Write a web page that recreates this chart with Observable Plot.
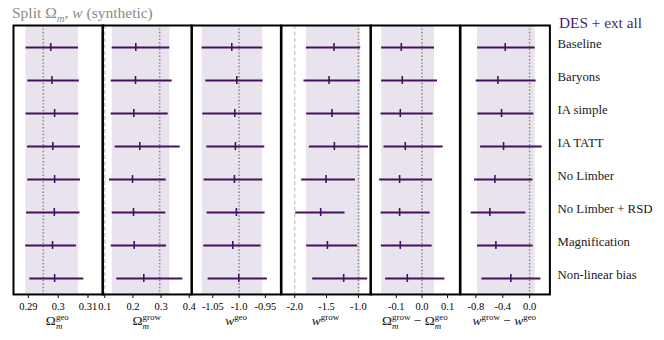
<!DOCTYPE html>
<html><head><meta charset="utf-8">
<script src="https://cdn.jsdelivr.net/npm/d3@7"></script>
<script src="https://cdn.jsdelivr.net/npm/@observablehq/plot@0.6"></script>
<style>
body{margin:0;background:#fff;width:664px;height:340px;overflow:hidden;position:relative;font-family:"Liberation Serif",serif}
.lab{position:absolute;line-height:0;white-space:nowrap}
.pan{position:absolute;top:20px;line-height:0}
.pan svg, .pan svg text{font-family:"Liberation Serif",serif !important}
.ax{font-size:13.5px;text-align:center;color:#111}
.ss{position:relative}
.sup{font-size:0.66em;position:relative;top:-0.55em}
.sub{font-size:0.66em;position:absolute;left:0;top:12.6px;font-style:italic}
.tsub{font-size:0.7em;position:relative;top:0.3em;font-style:italic}
</style></head><body>
<script>
const rows = ["Baseline","Baryons","IA simple","IA TATT","No Limber","No Limber + RSD","Magnification","Non-linear bias"];
// each entry: [lower, centre, upper]
const omGeo = [[0.2892,0.2975,0.3068],[0.2898,0.2979,0.3071],[0.2892,0.2988,0.3069],[0.2897,0.2982,0.3075],[0.2898,0.2988,0.3075],[0.2894,0.2987,0.3073],[0.2891,0.2981,0.3061],[0.2905,0.2988,0.3086]];
const omGrow = [[0.1263,0.2102,0.3311],[0.1228,0.2091,0.3396],[0.1228,0.2031,0.3254],[0.1370,0.2244,0.3680],[0.1167,0.1985,0.3183],[0.1263,0.2020,0.3168],[0.1228,0.2045,0.3193],[0.1427,0.2386,0.3773]];
const wGeo = [[-1.0703,-1.0139,-0.9550],[-1.0633,-1.0044,-0.9544],[-1.0690,-1.0082,-0.9563],[-1.0614,-1.0070,-0.9512],[-1.0665,-1.0089,-0.9550],[-1.0608,-1.0051,-0.9506],[-1.0671,-1.0120,-0.9582],[-1.0589,-1.0006,-0.9462]];
const wGrow = [[-1.816,-1.383,-0.964],[-1.854,-1.461,-0.969],[-1.812,-1.414,-0.975],[-1.770,-1.377,-0.843],[-1.890,-1.508,-1.047],[-1.984,-1.592,-1.210],[-1.812,-1.487,-1.011],[-1.717,-1.231,-0.854]];
const dOm = [[-0.1572,-0.0805,0.0490],[-0.1572,-0.0767,0.0607],[-0.1595,-0.0844,0.0440],[-0.1479,-0.0650,0.0829],[-0.1650,-0.0871,0.0414],[-0.1595,-0.0871,0.0323],[-0.1584,-0.0844,0.0400],[-0.1416,-0.0572,0.0895]];
const dW = [[-0.775,-0.363,0.084],[-0.796,-0.472,0.098],[-0.770,-0.418,0.064],[-0.730,-0.388,0.188],[-0.820,-0.517,0.049],[-0.870,-0.592,-0.055],[-0.775,-0.502,0.054],[-0.711,-0.279,0.168]];
const truths = [0.295, 0.295, -1.0, -1.0, 0.0, 0.0];
const priors = [null, 0.1, null, -2.0, null, null];
const domains = [[0.285,0.315],[0.0918,0.4096],[-1.0905,-0.9205],[-2.207,-0.804],[-0.2006,0.148],[-1.0295,0.3025]];
const tickVals = [[0.29,0.3,0.31],[0.1,0.2,0.3,0.4],[-1.05,-1.0,-0.95],[-2.0,-1.5,-1.0],[-0.1,0.0,0.1],[-0.8,-0.4,0.0]];
const tickLabels = [["0.29","0.3","0.31"],["0.1","0.2","0.3","0.4"],["-1.05","-1.0","-0.95"],["-2.0","-1.5","-1.0"],["-0.1","0.0","0.1"],["-0.8","-0.4","0.0"]];
const axisTitles = [
  'Ω<span class="ss"><span class="sup">geo</span><span class="sub">m</span></span>',
  'Ω<span class="ss"><span class="sup">grow</span><span class="sub">m</span></span>',
  '<i>w</i><span class="sup">geo</span>',
  '<i>w</i><span class="sup">grow</span>',
  'Ω<span class="ss"><span class="sup">grow</span><span class="sub">m</span></span> − Ω<span class="ss"><span class="sup">geo</span><span class="sub">m</span></span>',
  '<i>w</i><span class="sup">grow</span> − <i>w</i><span class="sup">geo</span>'
];
const series = [omGeo, omGrow, wGeo, wGrow, dOm, dW];
const legendLabel = "DES + ext all";

const LINE = "#46105f", BAND = "#e9e3ed";
const W = 89.4, X0 = 12.6, H = 302, MT = 5, MB = 28;
const yRange = [24.7, 260.3];
const baseStyle = {fontFamily: "Liberation Serif", fontSize: "10.5px", overflow: "visible", background: "transparent", color: "#000"};

series.forEach((vals, p) => {
  const data = rows.map((r, i) => ({row: r, lo: vals[i][0], mid: vals[i][1], hi: vals[i][2]}));
  const marks = [
    Plot.rect([data[0]], {x1: "lo", x2: "hi", fill: BAND}),
  ];
  if (priors[p] !== null) marks.push(Plot.ruleX([priors[p]], {stroke: "#cccccc", strokeWidth: 1.5, strokeDasharray: "4,2.5"}));
  marks.push(
    Plot.ruleX([truths[p]], {stroke: "#8a8a8a", strokeWidth: 1.6, strokeDasharray: "1.4,2"}),
    Plot.ruleY(data, {y: "row", x1: "lo", x2: "hi", stroke: LINE, strokeWidth: 2}),
    Plot.ruleX(data, {x: "mid", y1: "row", y2: "row", insetTop: -4, insetBottom: -4, stroke: LINE, strokeWidth: 1.6}),
    Plot.frame({stroke: "#000", strokeWidth: 2})
  );
  const fig = Plot.plot({
    width: W, height: H, marginLeft: 0, marginRight: 0, marginTop: MT, marginBottom: MB,
    style: baseStyle,
    x: {domain: domains[p], ticks: tickVals[p], tickFormat: (d, i) => tickLabels[p][i], tickSize: 4, tickPadding: 4, label: null},
    y: {type: "point", domain: rows, range: yRange, padding: 0, axis: null},
    marks
  });
  const div = document.createElement("div");
  div.className = "pan";
  div.style.left = (X0 + W * p) + "px";
  div.appendChild(fig);
  document.body.appendChild(div);

  const t = document.createElement("div");
  t.className = "lab ax";
  t.style.left = (X0 + W * p - 20) + "px";
  t.style.width = (W + 40) + "px";
  t.style.top = (325.5 - 0.3375 * 13.5) + "px";
  t.innerHTML = axisTitles[p];
  document.body.appendChild(t);
});

// row labels
const labFig = Plot.plot({
  width: 115, height: H, marginLeft: 0, marginRight: 0, marginTop: MT, marginBottom: MB,
  style: baseStyle,
  y: {type: "point", domain: rows, range: yRange, padding: 0, axis: null},
  marks: [Plot.text(rows, {y: d => d, text: d => d, frameAnchor: "left", textAnchor: "start", dx: 8, dy: -3.3, fontSize: 12.8, fill: "#1a1a1a"})]
});
const ld = document.createElement("div");
ld.className = "pan";
ld.style.left = (X0 + W * 6) + "px";
ld.appendChild(labFig);
document.body.appendChild(ld);

// title
const title = document.createElement("div");
title.className = "lab";
title.style.cssText += "left:12px;top:" + (18.5 - 0.3375 * 15.5) + "px;font-size:15.5px;color:#8a8a8a";
title.innerHTML = 'Split Ω<span class="tsub">m</span>, <i>w</i> (synthetic)';
document.body.appendChild(title);

// legend
const leg = document.createElement("div");
leg.className = "lab";
leg.style.cssText += "left:559px;top:" + (28 - 0.3375 * 15.3) + "px;font-size:15.3px;color:#4f1f6c";
leg.textContent = legendLabel;
document.body.appendChild(leg);
</script>
</body></html>
